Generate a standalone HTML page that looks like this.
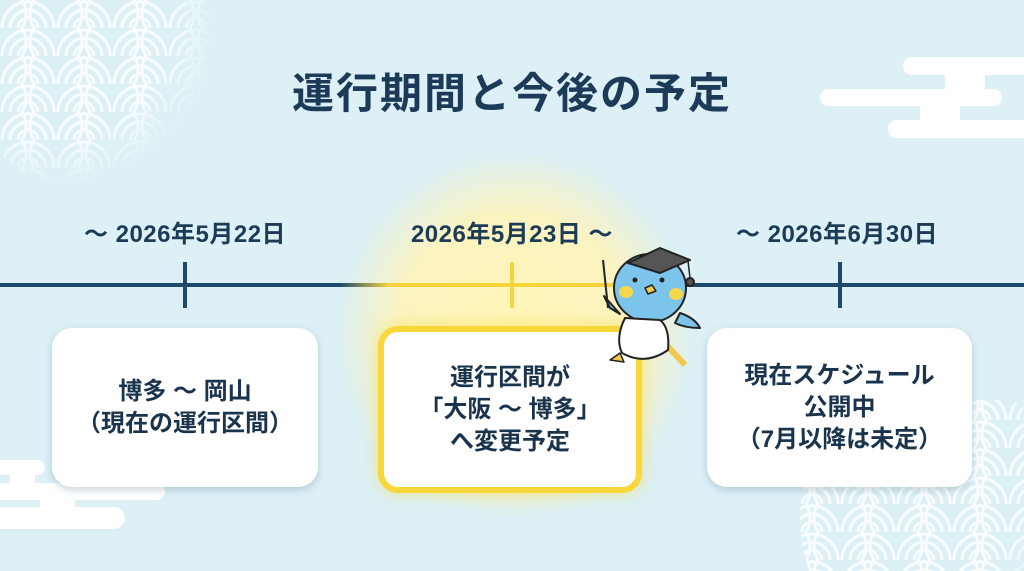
<!DOCTYPE html>
<html><head><meta charset="utf-8"><style>
*{margin:0;padding:0;box-sizing:border-box}
body{width:1024px;height:571px;overflow:hidden;background:#dcf0f6;font-family:"Liberation Sans","Noto Sans CJK JP",sans-serif;position:relative;color:#1c3b57}
.abs{position:absolute}
.title{left:0;width:1024px;top:60px;text-align:center;font-size:42px;font-weight:bold;letter-spacing:2px;color:#1d3b58}
.date{top:214px;font-size:24px;font-weight:bold;text-align:center;width:340px;letter-spacing:.5px}
.box{background:#fff;border-radius:20px;box-shadow:0 3px 8px rgba(60,90,110,.25);display:flex;align-items:center;justify-content:center;text-align:center;font-size:24px;font-weight:bold;line-height:32px;color:#1a344d}
</style></head><body>
<svg class="abs" style="left:0;top:0" width="1024" height="571">
<defs>
<pattern id="sg" width="56" height="28" patternUnits="userSpaceOnUse">
<g fill="none" stroke="#fff" stroke-width="3" opacity=".85">
<circle cx="28" cy="28" r="26"/><circle cx="28" cy="28" r="18"/><circle cx="28" cy="28" r="10"/>
<circle cx="0" cy="14" r="26"/><circle cx="56" cy="14" r="26"/>
</g></pattern>
<radialGradient id="fade1" cx="0.35" cy="0.35" r="0.65"><stop offset="0.7" stop-color="#fff"/><stop offset="1" stop-color="#000"/></radialGradient>
<mask id="m1"><circle cx="90" cy="60" r="130" fill="url(#fade1)"/></mask>
<mask id="m2"><circle cx="940" cy="520" r="140" fill="url(#fade1)"/></mask>
<radialGradient id="glow" cx="0.5" cy="0.5" r="0.5"><stop offset="0" stop-color="#fff6b8"/><stop offset="0.65" stop-color="#fbf3c0"/><stop offset="1" stop-color="#fbf3c0" stop-opacity="0"/></radialGradient>
<linearGradient id="lg" x1="0" x2="1"><stop offset="0" stop-color="#1f4a6b"/><stop offset="1" stop-color="#f6d840"/></linearGradient>
</defs>
<rect x="0" y="0" width="220" height="190" fill="url(#sg)" mask="url(#m1)"/>
<rect x="790" y="400" width="234" height="171" fill="url(#sg)" mask="url(#m2)"/>
<g fill="#fff">
<rect x="903" y="57" width="140" height="18" rx="9"/><rect x="945" y="70" width="40" height="25"/>
<rect x="820" y="89" width="182" height="17" rx="8.5"/><rect x="920" y="100" width="40" height="25"/>
<rect x="888" y="120" width="150" height="18" rx="9"/>
<rect x="-10" y="460" width="55" height="15" rx="7.5"/><rect x="10" y="470" width="25" height="20"/>
<rect x="-10" y="483" width="175" height="17" rx="8.5"/><rect x="40" y="495" width="35" height="15"/>
<rect x="-10" y="507" width="135" height="22" rx="11"/>
</g>
<rect x="335" y="150" width="360" height="370" rx="180" fill="url(#glow)"/>
<rect x="0" y="283" width="340" height="4" fill="#1f4a6b"/>
<rect x="340" y="283" width="50" height="4" fill="url(#lg)"/>
<rect x="390" y="283" width="240" height="4" fill="#f6d43c"/>
<rect x="630" y="283" width="394" height="4" fill="#1f4a6b"/>
<rect x="183" y="262" width="4" height="46" fill="#1f4a6b"/>
<rect x="510" y="262" width="4" height="46" rx="2" fill="#f6d43c"/>
<rect x="838" y="262" width="4" height="46" fill="#1f4a6b"/>
</svg>
<div class="abs title">運行期間と今後の予定</div>
<div class="abs date" style="left:15px">～ 2026年5月22日</div>
<div class="abs date" style="left:342px">2026年5月23日 ～</div>
<div class="abs date" style="left:667px">～ 2026年6月30日</div>
<div class="abs box" style="left:52px;top:328px;width:266px;height:159px">博多 ～ 岡山<br>（現在の運行区間）</div>
<div class="abs box" style="left:378px;top:326px;width:264px;height:167px;border:6px solid #f8d73a;box-shadow:0 0 16px rgba(250,220,60,.6)">運行区間が<br>「大阪 ～ 博多」<br>へ変更予定</div>
<div class="abs box" style="left:707px;top:328px;width:265px;height:159px">現在スケジュール<br>公開中<br>（7月以降は未定）</div>
<svg class="abs" style="left:590px;top:228px" width="120" height="150">
<g stroke="#222" stroke-width="2" stroke-linejoin="round">
<line x1="13" y1="32" x2="18" y2="80"/>
<path d="M20 80 L14 68 L30 86 Z" fill="#7cc4ec"/>
<path d="M90 85 Q105 90 110 100 Q95 100 85 95 Z" fill="#7cc4ec"/>
<line x1="70" y1="110" x2="95" y2="137" stroke-width="6" stroke="#f2c94c"/>
<ellipse cx="60" cy="60" rx="36" ry="34" fill="#7cc4ec"/>
<path d="M35 90 Q25 110 32 125 Q55 138 78 122 Q80 100 70 92 Z" fill="#fff"/>
<path d="M30 125 L20 132 L34 134 Z" fill="#f2c94c" stroke-width="1.5"/>
<path d="M38 35 L70 20 L100 32 L70 45 Z" fill="#555"/>
<line x1="98" y1="33" x2="100" y2="50" stroke-width="1.5"/>
<circle cx="100" cy="54" r="4" fill="#555"/>
<path d="M55 60 L62 57 L66 63 L58 66 Z" fill="#f2c94c" stroke-width="1.5"/>
</g>
<circle cx="45" cy="52" r="2.5" fill="#222"/><circle cx="72" cy="52" r="2.5" fill="#222"/>
<ellipse cx="36" cy="64" rx="7" ry="6" fill="#f5d84a"/><ellipse cx="86" cy="66" rx="7" ry="6" fill="#f5d84a"/>
</svg>
</body></html>
